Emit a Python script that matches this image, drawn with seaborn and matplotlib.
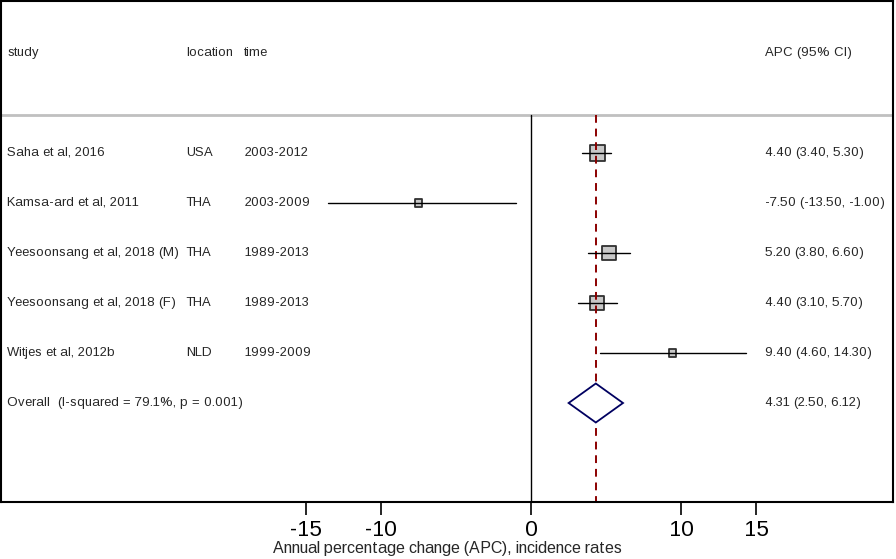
import numpy as np
import pandas as pd
import matplotlib
matplotlib.use('Agg')
import matplotlib.pyplot as plt
import seaborn as sns
from matplotlib.patches import Polygon

sns.set_style('white')
plt.rcParams['font.family'] = ['Liberation Sans', 'DejaVu Sans']
plt.rcParams['text.hinting_factor'] = 1

# dados dos estudos
estudos = ['Saha et al, 2016', 'Kamsa-ard et al, 2011', 'Yeesoonsang et al, 2018 (M)',
           'Yeesoonsang et al, 2018 (F)', 'Witjes et al, 2012b']
locais = ['USA', 'THA', 'THA', 'THA', 'NLD']
periodos = ['2003-2012', '2003-2009', '1989-2013', '1989-2013', '1999-2009']
apc = [4.40, -7.50, 5.20, 4.40, 9.40]
ic_inf = [3.40, -13.50, 3.80, 3.10, 4.60]
ic_sup = [5.30, -1.00, 6.60, 5.70, 14.30]
pesos = [32, 7, 26, 28, 7]  # estimado pelo tamanho das caixas

overall_rotulo = 'Overall  (I-squared = 79.1%, p = 0.001)'
overall = [4.31, 2.50, 6.12]

xticks = [-15, -10, 0, 10, 15]
xlabel = 'Annual percentage change (APC), incidence rates'

df = pd.DataFrame({'estudo': estudos, 'local': locais, 'periodo': periodos,
                   'apc': apc, 'inf': ic_inf, 'sup': ic_sup, 'peso': pesos})
df['linha'] = np.arange(1, len(df) + 1)
linha_overall = len(df) + 1

fig = plt.figure(figsize=(8.96, 5.59), dpi=100)
ax = fig.add_axes([1 / 896, 57 / 559, 892 / 896, 501 / 559])

x_min, x_max = -35.3, 24.1
ax.set_xlim(x_min, x_max)

# linhas de referencia
ax.axhline(0.24, color='#c0c0c0', lw=2)
ax.plot([0, 0], [0.24, 8.1], color='black', lw=1)
ax.plot([overall[0], overall[0]], [0.24, 8.1], color='#8b0000', lw=1.4, ls=(0, (4, 3)))

# intervalos de confianca
for _, r in df.iterrows():
    ax.plot([r['inf'], r['sup']], [r['linha'], r['linha']], color='black', lw=1)

# caixas com area proporcional ao peso
df['tam'] = df['peso'] * 3.7
sns.scatterplot(data=df, x='apc', y='linha', size='tam', sizes=(df['tam'].min(), df['tam'].max()),
                marker='s', color='#c8c8c8', edgecolor='#303030', linewidth=1.3, legend=False, ax=ax)
ax.set_ylim(7.98, -2.04)

# losango do overall
losango = Polygon([[overall[1], linha_overall], [overall[0], linha_overall - 0.39],
                   [overall[2], linha_overall], [overall[0], linha_overall + 0.39]],
                  closed=True, facecolor='white', edgecolor='#000060', lw=1.3, zorder=3)
ax.add_patch(losango)

# colunas de texto
fs = 9.4
col_estudo, col_local, col_periodo, col_apc = -34.9, -23.0, -19.1, 15.55
ax.text(col_estudo, -1, 'study', fontsize=fs, va='center')
ax.text(col_local, -1, 'location', fontsize=fs, va='center')
ax.text(col_periodo, -1, 'time', fontsize=fs, va='center')
ax.text(col_apc, -1, 'APC (95% CI)', fontsize=fs, va='center')
for _, r in df.iterrows():
    ax.text(col_estudo, r['linha'], r['estudo'], fontsize=fs, va='center')
    ax.text(col_local, r['linha'], r['local'], fontsize=fs, va='center')
    ax.text(col_periodo, r['linha'], r['periodo'], fontsize=fs, va='center')
    ax.text(col_apc, r['linha'], f"{r['apc']:.2f} ({r['inf']:.2f}, {r['sup']:.2f})", fontsize=fs, va='center')
ax.text(col_estudo, linha_overall, overall_rotulo, fontsize=fs, va='center')
ax.text(col_apc, linha_overall, f"{overall[0]:.2f} ({overall[1]:.2f}, {overall[2]:.2f})", fontsize=fs, va='center')

# eixos
for s in ax.spines.values():
    s.set_color('black')
    s.set_linewidth(1.5)
    s.set_visible(True)
ax.set_yticks([])
ax.set_xticks(xticks)
ax.set_xticklabels([str(t) for t in xticks], fontsize=15.5)
ax.tick_params(axis='x', direction='out', length=9, width=1.2, pad=4, bottom=True, colors='black')
ax.set_xlabel(xlabel, fontsize=11.8, labelpad=0)
ax.set_ylabel('')

plt.savefig('out.png', dpi=100)
